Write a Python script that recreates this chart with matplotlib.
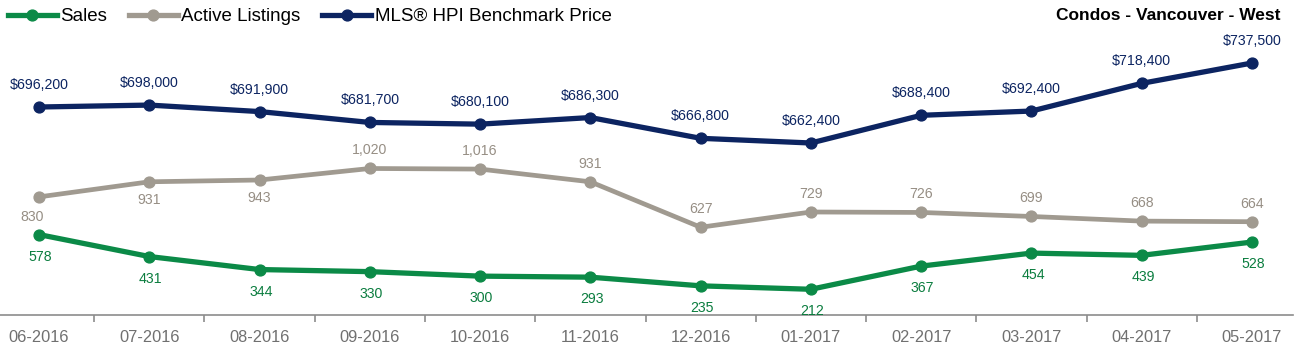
import matplotlib.pyplot as plt
from matplotlib.lines import Line2D

months = ["06-2016", "07-2016", "08-2016", "09-2016", "10-2016", "11-2016",
          "12-2016", "01-2017", "02-2017", "03-2017", "04-2017", "05-2017"]
sales = [578, 431, 344, 330, 300, 293, 235, 212, 367, 454, 439, 528]
active = [830, 931, 943, 1020, 1016, 931, 627, 729, 726, 699, 668, 664]
price = [696200, 698000, 691900, 681700, 680100, 686300,
         666800, 662400, 688400, 692400, 718400, 737500]

GREEN = "#0b8a47"
GREEN_TXT = "#0b7d3f"
GRAY = "#a09a90"
GRAY_TXT = "#968e84"
NAVY = "#0c2461"
AXIS = "#8c8c8c"
TICK_TXT = "#707070"

LABEL_FONT = ["Liberation Sans", "DejaVu Sans"]
NARROW_FONT = ["Liberation Sans Narrow", "Liberation Sans", "DejaVu Sans"]

PX = 0.72  # points per pixel at dpi 100

fig = plt.figure(figsize=(13.02, 3.53), dpi=100)
ax = fig.add_axes([0, 38 / 353, 1293 / 1302, 315 / 353])
ax2 = ax.twinx()

x = list(range(len(months)))

ax.plot(x, sales, color=GREEN, lw=3.8, marker="o", ms=7.8, zorder=3)
ax.plot(x, active, color=GRAY, lw=3.4, marker="o", ms=7.8, zorder=3)
ax2.plot(x, price, color=NAVY, lw=3.8, marker="o", ms=7.8, zorder=3)

ax.set_xlim(-0.354, 11.372)
ax.set_ylim(40, 2147)
ax2.set_ylim(500900, 796672)

# value labels
for i, v in enumerate(sales):
    ax.annotate(f"{v}", (i, v), xytext=(1.5 * PX, -22 * PX), textcoords="offset points",
                ha="center", va="center", fontsize=10.2, color=GREEN_TXT, family=LABEL_FONT)
for i, v in enumerate(active):
    if i == 0:
        off = (-7 * PX, -20 * PX)
    elif i in (1, 2):
        off = (0, -18 * PX)
    else:
        off = (0, 18 * PX)
    ax.annotate(f"{v:,}", (i, v), xytext=off, textcoords="offset points",
                ha="center", va="center", fontsize=10.2, color=GRAY_TXT, family=LABEL_FONT)
for i, v in enumerate(price):
    ax2.annotate(f"${v:,}", (i, v), xytext=(0, 22 * PX), textcoords="offset points",
                 ha="center", va="center", fontsize=10.2, color=NAVY, family=LABEL_FONT)

# axes styling
for a in (ax, ax2):
    for side in ("top", "left", "right"):
        a.spines[side].set_visible(False)
    a.set_yticks([])
ax2.spines["bottom"].set_visible(False)
ax.spines["bottom"].set_color(AXIS)
ax.spines["bottom"].set_linewidth(1.2)

ax.set_xticks(x)
ax.set_xticklabels(months, fontsize=11.8, color=TICK_TXT, family=LABEL_FONT)
ax.tick_params(axis="x", which="major", length=0, pad=11)
ax.set_xticks([i + 0.5 for i in x[:-1]], minor=True)
ax.tick_params(axis="x", which="minor", length=5, width=1.2, color=AXIS, direction="out")

# legend
handles = [
    Line2D([], [], color=GREEN, lw=3.8, marker="o", ms=7.8),
    Line2D([], [], color=GRAY, lw=3.8, marker="o", ms=7.8),
    Line2D([], [], color=NAVY, lw=3.8, marker="o", ms=7.8),
]
fig.legend(handles, ["Sales", "Active Listings", "MLS® HPI Benchmark Price"],
           loc="upper left", bbox_to_anchor=(0.004, 0.985), ncol=3, frameon=False,
           prop={"family": NARROW_FONT, "size": 13.5}, handlelength=2.6,
           handletextpad=0.2, columnspacing=1.15, borderpad=0.05, borderaxespad=0.1)

fig.text(1281 / 1302, 1 - 15 / 353, "Condos - Vancouver - West", ha="right", va="center",
         fontsize=12.5, fontweight="bold", family=NARROW_FONT)

fig.savefig("out.png", dpi=100)
